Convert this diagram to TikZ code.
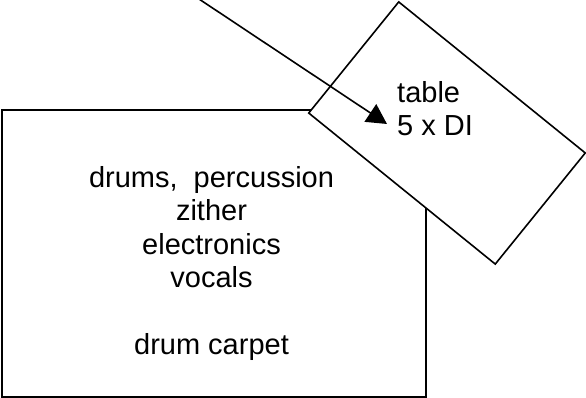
\documentclass[tikz,border=0pt]{standalone}
\usepackage{fontspec}
\setmainfont{Liberation Sans}
\usetikzlibrary{arrows.meta}
\tikzset{>={Triangle[length=20pt,width=21pt]}}
\tikzset{zone/.style={draw,line width=1.6pt,fill=white,inner sep=0pt},
  label/.style={font=\fontsize{29}{33.5}\selectfont,inner sep=0pt}}

\begin{document}
\begin{tikzpicture}[x=1pt,y=-1pt]
\useasboundingbox (0,0) rectangle (586,398);
    \node[zone,minimum width=424pt,minimum height=287pt] (stage) at (214,253.5) {};
    \node[zone,minimum width=240pt,minimum height=143pt,rotate=-39] (table) at (447,133) {};
    \coordinate (feed) at (196,-3);
    \coordinate (tip) at (387,124);
    \draw[line width=1.6pt,->] (feed)--(tip);
    \node[label,align=center,anchor=north] (players) at (211.5,166) {drums,\ \ percussion\\zither\\electronics\\vocals\\[33.5pt]drum carpet};
    \node[label,align=left,anchor=north west] (di) at (397,81) {table\\5 x DI};
\end{tikzpicture}
\end{document}
